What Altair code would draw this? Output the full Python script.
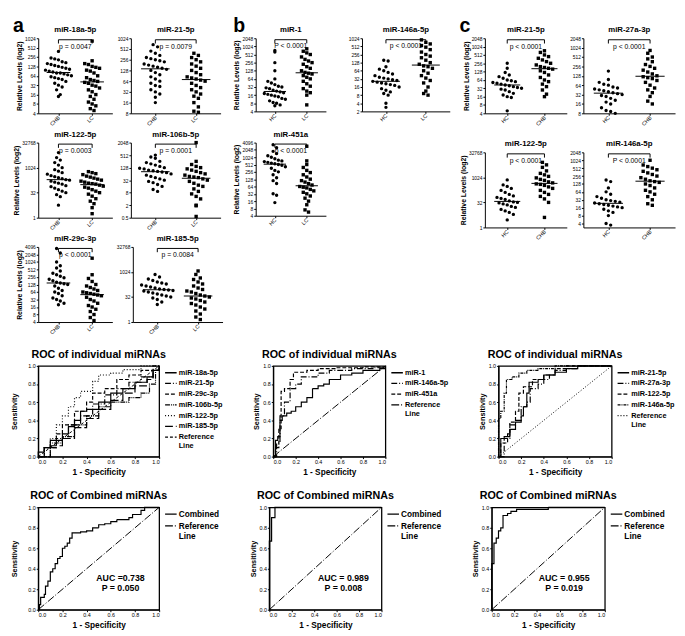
import altair as alt
import pandas as pd
import numpy as np

FONT = "Liberation Sans"

# ---------------- scatter data: log2 relative levels ----------------
a1_CHB = [8.6,7.9,7.8,7.7,7.5,7.4,7.3,7.2,7.1,7.0,6.9,6.8,6.7,6.6,6.5,6.4,6.3,6.3,6.2,6.1,6.0,5.9,5.8,5.7,5.6,5.4,5.2,5.0,4.8,4.5,4.0,3.8]
a1_LC = [9.7,7.6,7.3,7.2,7.0,6.9,6.8,6.6,6.5,6.3,6.0,5.8,5.6,5.5,5.4,5.3,5.2,5.0,4.9,4.7,4.5,4.3,4.0,3.8,3.5,3.2,3.0,2.8,2.5,2.3]
a2_CHB = [9.4,9.2,8.8,8.6,8.4,8.2,8.1,8.0,7.9,7.8,7.6,7.5,7.4,7.3,7.2,7.1,7.0,6.8,6.6,6.4,6.2,6.0,5.8,5.6,5.5,5.2,5.0,4.8,4.5,4.0]
a2_LC = [8.6,8.4,8.2,8.0,7.8,7.6,7.4,7.2,7.0,6.8,6.6,6.4,6.3,6.2,6.1,6.0,5.8,5.6,5.4,5.2,5.0,4.8,4.6,4.4,4.0,3.6,3.2,3.1]
a3_CHB = [13.0,12.0,11.5,11.0,10.5,10.0,9.6,9.3,9.0,8.7,8.4,8.2,8.0,7.8,7.6,7.5,7.3,7.1,6.9,6.7,6.4,6.2,5.9,5.6,5.3,5.0,4.6,4.2,2.5]
a3_LC = [9.2,9.0,8.8,8.6,8.3,8.1,7.9,7.7,7.5,7.3,7.1,6.9,6.8,6.7,6.5,6.3,6.1,5.9,5.6,5.3,5.0,4.7,4.3,3.8,3.3,2.8,2.0,0.8]
a4_CHB = [9.0,8.7,8.5,8.0,7.8,7.6,7.4,7.2,7.0,6.9,6.8,6.6,6.5,6.4,6.3,6.2,6.0,5.8,5.6,5.4,5.2,5.0,4.8,4.6,4.3,4.0,3.5,3.2]
a4_LC = [11.0,8.0,7.5,7.2,7.0,6.8,6.6,6.4,6.2,6.0,5.8,5.6,5.5,5.4,5.2,5.0,4.8,4.5,4.2,4.0,3.6,3.2,2.8,2.4,2.0,1.0,0.9,-0.8]
a5_CHB = [11.8,11.2,10.0,9.5,9.2,8.8,8.5,8.3,8.1,7.9,7.7,7.5,7.3,7.2,7.1,7.0,6.8,6.5,6.2,6.0,5.8,5.5,5.2,5.0,4.8,4.5,4.3]
a5_LC = [10.5,8.3,7.8,7.4,7.0,6.8,6.6,6.4,6.2,6.0,5.9,5.8,5.7,5.6,5.5,5.3,5.0,4.8,4.5,4.2,4.0,3.7,3.4,3.0,2.6,2.2]
a6_CHB = [9.5,9.0,8.6,8.3,8.0,7.8,7.6,7.4,7.2,7.0,6.8,6.6,6.5,6.4,6.3,6.2,6.0,5.8,5.6,5.4,5.2,5.0,4.8,4.5,4.0,3.5]
a6_LC = [10.2,9.5,8.8,8.5,8.0,7.6,7.2,6.8,6.5,6.2,6.0,5.7,5.4,5.2,5.0,4.8,4.6,4.3,4.0,3.7,3.4,3.0,2.6,2.2,1.6,1.0,0.5]

b1_HC = [9.5,9.3,8.0,7.0,6.0,5.7,5.5,5.3,5.1,5.0,4.9,4.8,4.6,4.5,4.4,4.3,4.2,4.1,4.0,3.9,3.8,3.6,3.5,3.3,3.1,3.0,2.8,2.7]
b1_LC = [9.7,9.4,9.2,9.0,8.7,8.4,8.2,8.0,7.8,7.5,7.3,7.0,6.8,6.7,6.6,6.4,6.2,6.0,5.7,5.4,5.1,4.8,4.5,4.3,4.0,2.8]
b2_HC = [7.3,7.2,6.5,6.2,6.0,5.8,5.6,5.4,5.2,5.1,5.0,4.9,4.8,4.7,4.6,4.5,4.4,4.3,4.2,4.0,3.8,3.6,3.4,3.2,3.0,2.0,1.5]
b2_LC = [9.8,9.5,9.3,9.1,8.9,8.6,8.3,8.0,7.8,7.6,7.3,7.0,6.8,6.6,6.5,6.3,6.0,5.7,5.4,5.1,4.8,4.5,4.0,3.5,3.2,3.0]
b3_HC = [11.7,11.3,10.8,10.5,10.2,10.0,9.8,9.6,9.5,9.4,9.3,9.2,9.1,9.0,8.9,8.7,8.5,8.2,8.0,7.6,7.2,6.8,6.4,5.0,4.8,3.8]
b3_LC = [11.5,9.5,9.0,8.6,8.2,7.9,7.6,7.3,7.0,6.8,6.6,6.4,6.2,6.0,5.9,5.8,5.6,5.4,5.2,5.0,4.7,4.4,4.0,3.5,2.8,2.5]

c1_HC = [8.0,7.4,6.9,6.6,6.4,6.2,6.0,5.9,5.8,5.7,5.6,5.5,5.4,5.3,5.2,5.1,5.0,4.9,4.8,4.6,4.4,4.2,4.0,3.9,2.3]
c1_CHB = [9.5,9.3,9.0,8.8,8.6,8.4,8.2,8.0,7.8,7.6,7.5,7.4,7.3,7.1,6.9,6.6,6.3,6.0,5.8,5.5,5.2,4.8,4.3,4.0]
c2_HC = [7.5,6.6,6.3,6.1,6.0,5.8,5.7,5.6,5.5,5.4,5.3,5.2,5.1,5.0,4.9,4.8,4.6,4.4,4.2,4.0,3.6,3.3,3.2,3.0]
c2_CHB = [9.7,9.4,9.0,8.8,8.5,8.2,8.0,7.8,7.6,7.4,7.2,7.0,6.9,6.8,6.7,6.5,6.3,6.0,5.7,5.5,5.2,4.8,4.3,4.0]
c3_HC = [9.5,8.5,8.2,7.8,7.4,7.0,6.6,6.3,6.0,5.8,5.6,5.3,5.1,5.0,4.9,4.7,4.5,4.2,4.0,3.6,3.3,3.0,2.6,1.5]
c3_CHB = [13.0,12.5,12.0,11.3,10.8,10.5,10.2,9.9,9.6,9.4,9.1,8.9,8.7,8.6,8.4,8.1,7.8,7.4,7.0,6.6,6.2,5.7,5.0,2.0]
c4_HC = [7.5,7.3,6.5,6.0,5.7,5.4,5.2,5.0,4.9,4.8,4.7,4.6,4.5,4.4,4.3,4.2,4.1,4.0,3.8,3.6,3.4,3.0,2.0,1.8]
c4_CHB = [10.0,9.4,9.2,9.0,8.8,8.6,8.4,8.2,8.0,7.8,7.6,7.4,7.3,7.2,7.0,6.8,6.5,6.2,6.0,5.7,5.4,5.0,4.5,4.3]

# tick exponents (labels shown as 2^k)
t_4_1024 = [2,3,4,5,6,7,8,9,10]
t_8_1024 = [3,4,5,6,7,8,9,10]
t_1_32768 = [0,5,10,15]
t_half_2048 = [-1,1,3,5,7,9,11]
t_4_4096 = [2,3,4,5,6,7,8,9,10,11,12]
t_4_2048 = [2,3,4,5,6,7,8,9,10,11]
t_2_1024 = [1,2,3,4,5,6,7,8,9,10]
t_8_2048 = [3,4,5,6,7,8,9,10,11]

p_a = ["p = 0.0047", "p = 0.0079", "p = 0.0003", "p = 0.0001", "p < 0.0001", "p = 0.0084"]
p_b = ["P < 0.0001", "p < 0.0001", "p < 0.0001"]
p_c = ["p < 0.0001", "p < 0.0001", "p < 0.0001", "P < 0.0001"]

# ---------------- ROC data (1-specificity, sensitivity) ----------------
rocA_18a = [(0,0),(0,0.05),(0.05,0.1),(0.1,0.18),(0.2,0.25),(0.25,0.33),(0.3,0.4),(0.35,0.5),(0.4,0.52),(0.5,0.6),(0.6,0.7),(0.7,0.75),(0.8,0.82),(0.9,0.88),(0.95,0.95),(1,1)]
rocA_21 = [(0,0),(0.05,0.1),(0.15,0.2),(0.25,0.35),(0.35,0.45),(0.45,0.58),(0.55,0.68),(0.65,0.75),(0.75,0.82),(0.85,0.88),(0.95,0.95),(1,1)]
rocA_29c = [(0,0),(0.05,0.1),(0.15,0.25),(0.2,0.35),(0.3,0.5),(0.4,0.6),(0.45,0.7),(0.55,0.75),(0.65,0.85),(0.75,0.9),(0.85,0.95),(0.95,1.0),(1,1)]
rocA_106b = [(0,0),(0.1,0.15),(0.2,0.22),(0.3,0.35),(0.4,0.45),(0.5,0.55),(0.6,0.6),(0.75,0.65),(0.85,0.7),(0.92,0.8),(0.97,0.95),(1,1)]
rocA_122 = [(0,0),(0.05,0.1),(0.1,0.2),(0.15,0.35),(0.2,0.45),(0.25,0.55),(0.3,0.65),(0.35,0.72),(0.45,0.83),(0.5,0.9),(0.6,0.92),(0.7,0.96),(0.85,1.0),(1,1)]
rocA_185 = [(0,0),(0.1,0.12),(0.2,0.2),(0.3,0.32),(0.4,0.42),(0.5,0.52),(0.6,0.62),(0.7,0.7),(0.8,0.78),(0.9,0.85),(0.95,0.95),(1,1)]

rocB_1 = [(0,0),(0.02,0.18),(0.04,0.22),(0.06,0.4),(0.08,0.45),(0.12,0.48),(0.16,0.5),(0.2,0.55),(0.25,0.6),(0.3,0.65),(0.35,0.75),(0.4,0.78),(0.45,0.8),(0.5,0.85),(0.6,0.9),(0.7,0.92),(0.8,0.95),(0.95,0.97),(1,1)]
rocB_146a = [(0,0),(0.03,0.15),(0.06,0.45),(0.1,0.6),(0.15,0.75),(0.2,0.8),(0.25,0.88),(0.3,0.88),(0.4,0.92),(0.5,0.95),(0.7,0.97),(0.9,0.98),(1,1)]
rocB_451a = [(0,0),(0.02,0.1),(0.05,0.3),(0.07,0.72),(0.1,0.75),(0.15,0.85),(0.18,0.93),(0.3,0.95),(0.4,0.97),(0.55,0.98),(0.8,0.99),(1,1)]

rocC_21 = [(0,0),(0.02,0.2),(0.05,0.22),(0.1,0.3),(0.15,0.38),(0.2,0.45),(0.22,0.55),(0.25,0.7),(0.27,0.82),(0.35,0.85),(0.4,0.9),(0.5,0.93),(0.6,0.97),(0.7,1),(1,1)]
rocC_27a = [(0,0),(0.05,0.2),(0.1,0.35),(0.15,0.4),(0.2,0.55),(0.25,0.6),(0.28,0.75),(0.35,0.8),(0.4,0.85),(0.45,0.9),(0.5,0.95),(0.6,0.97),(0.7,1),(1,1)]
rocC_122 = [(0,0),(0.02,0.15),(0.08,0.25),(0.1,0.38),(0.15,0.5),(0.18,0.7),(0.22,0.77),(0.3,0.85),(0.4,0.9),(0.5,0.97),(0.6,1),(1,1)]
rocC_146a = [(0,0),(0,0.42),(0.02,0.5),(0.05,0.7),(0.07,0.85),(0.12,0.88),(0.18,0.92),(0.25,0.95),(0.35,0.97),(0.5,1),(1,1)]

combA = [(0,0),(0.01,0.05),(0.02,0.12),(0.05,0.15),(0.06,0.23),(0.08,0.28),(0.1,0.37),(0.12,0.4),(0.14,0.45),(0.16,0.5),(0.18,0.52),(0.2,0.6),(0.22,0.62),(0.24,0.65),(0.26,0.7),(0.28,0.75),(0.35,0.76),(0.4,0.77),(0.45,0.8),(0.5,0.83),(0.55,0.84),(0.6,0.86),(0.65,0.88),(0.75,0.9),(0.78,0.93),(0.85,0.97),(0.88,1.0),(1,1)]
combB = [(0,0),(0,0.67),(0.02,0.9),(0.05,1.0),(1,1)]
combC = [(0,0),(0,0.45),(0.02,0.65),(0.04,0.7),(0.06,0.77),(0.08,0.8),(0.1,0.92),(0.14,0.94),(0.17,0.96),(0.22,0.98),(0.5,1),(1,1)]

auc_text = ["AUC =0.738\nP = 0.050", "AUC = 0.989\nP = 0.008", "AUC = 0.955\nP = 0.019"]
auc_pos = [(0.68, 0.35), (0.66, 0.35), (0.64, 0.35)]

YTITLE = "Relative Levels (log2)"


def swarm(vals, gi, lo, hi):
    v = np.sort(np.array(vals, dtype=float))[::-1]
    binw = (hi - lo) / 12.0
    bins = np.floor((v - lo) / binw)
    rows = []
    for b in np.unique(bins):
        members = v[bins == b]
        n = len(members)
        for i, val in enumerate(members):
            rows.append({"gi": gi, "val": val, "xp": gi + (i - (n - 1) / 2.0) * 0.11})
    return rows


def scatter(title, g1, g2, v1, v2, lo, hi, ticks, ptxt, w, h, ytitle):
    df = pd.DataFrame(swarm(v1, 0, lo, hi) + swarm(v2, 1, lo, hi))
    df["shp"] = np.where(df["gi"] == 0, "circle", "square")
    xsc = alt.Scale(domain=[-0.6, 1.6], nice=False, zero=False)
    ysc = alt.Scale(domain=[lo, hi], nice=False, zero=False)
    xax = alt.Axis(values=[0, 1], labelExpr=f"datum.value < 0.5 ? '{g1}' : '{g2}'",
                   labelAngle=-45, grid=False, labelFontSize=5.5, tickSize=2,
                   labelPadding=1, labelAlign="right", labelBaseline="middle")
    yax = alt.Axis(values=ticks, labelExpr="'' + pow(2, datum.value)", grid=False,
                   labelFontSize=5, tickSize=2, labelPadding=1, titleFontSize=7,
                   titleFontWeight="bold", titlePadding=2)

    def X(f):
        return alt.X(f, scale=xsc, axis=xax, title=None)

    def Y(f):
        return alt.Y(f, scale=ysc, axis=yax, title=ytitle)

    base = alt.Chart(df)
    pts = base.mark_point(filled=True, size=12, opacity=1, color="black").encode(
        x=X("xp:Q"), y=Y("val:Q"), shape=alt.Shape("shp:N", scale=None))
    med = base.transform_aggregate(m="median(val)", groupby=["gi"]).transform_calculate(
        x1="datum.gi - 0.35", x2="datum.gi + 0.35"
    ).mark_rule(color="black", strokeWidth=1).encode(x=X("x1:Q"), x2="x2:Q", y=Y("m:Q"))
    span = hi - lo
    br = alt.Chart(pd.DataFrame({"x": [0], "x2": [1], "y": [hi - 0.02 * span]})).mark_rule(
        color="black", strokeWidth=1).encode(x=X("x:Q"), x2="x2:Q", y=Y("y:Q"))
    ends = alt.Chart(pd.DataFrame({"x": [0, 1], "y": [hi - 0.02 * span] * 2,
                                   "y2": [hi - 0.07 * span] * 2})).mark_rule(
        color="black", strokeWidth=1).encode(x=X("x:Q"), y=Y("y:Q"), y2="y2:Q")
    txt = alt.Chart(pd.DataFrame({"x": [0.5], "y": [hi - 0.06 * span], "t": [ptxt]})).mark_text(
        fontSize=7, baseline="top", color="black").encode(x=X("x:Q"), y=Y("y:Q"), text="t:N")
    return alt.layer(pts, med, br, ends, txt).properties(
        width=w, height=h,
        title=alt.Title(title, fontSize=8, fontWeight="bold", offset=2))


def roc(title, names, curves, dashes, ref_dash, w, h, auc=None, auc_xy=None, legend_fs=7.5,
        ypad=2):
    rows = []
    for name, pts in zip(names, curves):
        for i, (x, y) in enumerate(pts):
            rows.append({"s": name, "i": i, "fpr": x, "tpr": y})
    df = pd.DataFrame(rows)
    refdf = pd.DataFrame({"s": ["Reference Line"] * 2, "i": [0, 1], "fpr": [0, 1], "tpr": [0, 1]})
    domain = names + ["Reference Line"]
    rng = dashes + [ref_dash]
    leg = alt.Legend(title=None, orient="right", labelFontSize=legend_fs, labelFontWeight="bold",
                     symbolType="stroke", symbolStrokeWidth=1.3, symbolSize=140,
                     symbolStrokeColor="black", rowPadding=0, padding=0, offset=2,
                     labelOffset=1, labelLimit=200,
                     labelExpr="datum.label == 'Reference Line' ? ['Reference', 'Line'] : datum.label")
    dash = alt.StrokeDash("s:N", scale=alt.Scale(domain=domain, range=rng), legend=leg)
    sc = alt.Scale(domain=[0, 1], nice=False, zero=False)
    xax = alt.Axis(values=[0, 0.2, 0.4, 0.6, 0.8, 1.0], format=".1f", grid=False, labelFontSize=5.5,
                   tickSize=2, labelPadding=1, titleFontSize=8.5, titleFontWeight="bold", titlePadding=3)
    yax = alt.Axis(values=[0, 0.2, 0.4, 0.6, 0.8, 1.0], format=".1f", grid=False, labelFontSize=5.5,
                   tickSize=2, labelPadding=1, titleFontSize=7.5, titleFontWeight="bold",
                   titlePadding=ypad)

    def X(f):
        return alt.X(f, scale=sc, axis=xax, title="1 - Specificity")

    def Y(f):
        return alt.Y(f, scale=sc, axis=yax, title="Sensitivity")

    cur = alt.Chart(df).mark_line(interpolate="step-after", color="black", strokeWidth=1.2).encode(
        x=X("fpr:Q"), y=Y("tpr:Q"), strokeDash=dash, order="i:Q")
    ref = alt.Chart(refdf).mark_line(color="black", strokeWidth=1).encode(
        x=X("fpr:Q"), y=Y("tpr:Q"), strokeDash=dash, order="i:Q")
    layers = [cur, ref]
    if auc is not None:
        t = alt.Chart(pd.DataFrame({"fpr": [auc_xy[0]], "tpr": [auc_xy[1]], "t": [auc]})).mark_text(
            lineBreak="\n", fontSize=9, fontWeight="bold", color="black", baseline="top").encode(
            x=X("fpr:Q"), y=Y("tpr:Q"), text="t:N")
        layers.append(t)
    return alt.layer(*layers).properties(
        width=w, height=h,
        title=alt.Title(title, fontSize=11, fontWeight="bold", offset=4, anchor="middle"),
        view=alt.ViewBackground(stroke="black", strokeWidth=1.3))


# ---------------- panels ----------------
HA = 77
a1 = scatter("miR-18a-5p", "CHB", "LC", a1_CHB, a1_LC, 2, 10, t_4_1024, p_a[0], 76, HA, YTITLE)
a2 = scatter("miR-21-5p", "CHB", "LC", a2_CHB, a2_LC, 3, 10, t_8_1024, p_a[1], 92, HA, None)
a3 = scatter("miR-122-5p", "CHB", "LC", a3_CHB, a3_LC, 0, 15, t_1_32768, p_a[2], 76, HA, YTITLE)
a4 = scatter("miR-106b-5p", "CHB", "LC", a4_CHB, a4_LC, -1, 11, t_half_2048, p_a[3], 92, HA, None)
a5 = scatter("miR-29c-3p", "CHB", "LC", a5_CHB, a5_LC, 2, 12, t_4_4096, p_a[4], 76, HA, YTITLE)
a6 = scatter("miR-185-5p", "CHB", "LC", a6_CHB, a6_LC, 0, 15, t_1_32768, p_a[5], 92, HA, None)

b1 = scatter("miR-1", "HC", "LC", b1_HC, b1_LC, 2, 11, t_4_2048, p_b[0], 72, 75, YTITLE)
b2 = scatter("miR-146a-5p", "HC", "LC", b2_HC, b2_LC, 1, 10, t_2_1024, p_b[1], 90, 75, None)
b3 = scatter("miR-451a", "HC", "LC", b3_HC, b3_LC, 2, 12, t_4_4096, p_b[2], 72, 75, YTITLE)

c1 = scatter("miR-21-5p", "HC", "CHB", c1_HC, c1_CHB, 2, 11, t_4_2048, p_c[0], 84, 77, YTITLE)
c2 = scatter("miR-27a-3p", "HC", "CHB", c2_HC, c2_CHB, 3, 11, t_8_2048, p_c[1], 94, 77, None)
c3 = scatter("miR-122-5p", "HC", "CHB", c3_HC, c3_CHB, 0, 15, t_1_32768, p_c[2], 84, 77, YTITLE)
c4 = scatter("miR-146a-5p", "HC", "CHB", c4_HC, c4_CHB, 1.5, 11, t_4_2048, p_c[3], 94, 77, None)

letter = lambda s: alt.Title(s, anchor="start", fontSize=20, fontWeight="bold", offset=-10)

colA = alt.vconcat(alt.hconcat(a1, a2, spacing=4), alt.hconcat(a3, a4, spacing=4),
                   alt.hconcat(a5, a6, spacing=4), spacing=4, title=letter("a"))
colB = alt.vconcat(alt.hconcat(b1, b2, spacing=22), b3, spacing=8, title=letter("b"))
colC = alt.vconcat(alt.hconcat(c1, c2, spacing=2), alt.hconcat(c3, c4, spacing=2), spacing=14,
                   title=letter("c"))
top = alt.hconcat(colA, colB, colC, spacing=10)

DA = [[1, 0], [6, 2, 1, 2], [4, 2], [5, 1, 1, 1, 1, 1], [1, 2], [8, 3]]
rA = roc("ROC of individual miRNAs",
         ["miR-18a-5p", "miR-21-5p", "miR-29c-3p", "miR-106b-5p", "miR-122-5p", "miR-185-5p"],
         [rocA_18a, rocA_21, rocA_29c, rocA_106b, rocA_122, rocA_185], DA, [3, 2], 124, 93,
         ypad=10)
rB = roc("ROC of individual miRNAs", ["miR-1", "miR-146a-5p", "miR-451a"],
         [rocB_1, rocB_146a, rocB_451a], [[1, 0], [6, 2, 1, 2], [4, 2]], [8, 2, 1, 2], 115, 93)
rC = roc("ROC of individual miRNAs", ["miR-21-5p", "miR-27a-3p", "miR-122-5p", "miR-146a-5p"],
         [rocC_21, rocC_27a, rocC_122, rocC_146a], [[1, 0], [6, 2, 1, 2], [4, 2], [3, 1, 1, 1]],
         [1, 2], 116, 93)
roc_row = alt.hconcat(rA, rB, rC, spacing=28).resolve_scale(strokeDash="independent")

cA = roc("ROC of Combined miRNAs", ["Combined"], [combA], [[1, 0]], [8, 2, 1, 2], 124, 105,
         auc_text[0], auc_pos[0], 8.5, ypad=10)
cB = roc("ROC of Combined miRNAs", ["Combined"], [combB], [[1, 0]], [8, 2, 1, 2], 115, 105,
         auc_text[1], auc_pos[1], 8.5)
cC = roc("ROC of Combined miRNAs", ["Combined"], [combC], [[1, 0]], [8, 2, 1, 2], 116, 105,
         auc_text[2], auc_pos[2], 8.5)
comb_row = alt.hconcat(cA, cB, cC, spacing=28).resolve_scale(strokeDash="independent")

chart = alt.vconcat(top, roc_row, comb_row, spacing=12).resolve_scale(
    strokeDash="independent"
).configure(font=FONT, padding=1).configure_view(stroke=None).configure_axis(
    domainColor="black", tickColor="black", labelColor="black", titleColor="black",
    labelFont=FONT, titleFont=FONT
).configure_title(font=FONT, color="black").configure_legend(labelFont=FONT, labelColor="black")

chart.save("out.html", embed_options={"renderer": "svg", "actions": False})
